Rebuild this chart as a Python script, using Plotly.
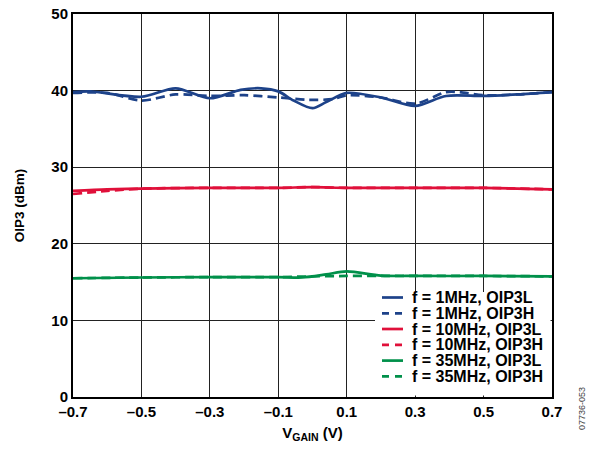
import plotly.graph_objects as go

# Data
x_1l = [-0.7, -0.65, -0.5, -0.4, -0.3, -0.21, -0.15, -0.1, -0.055, 0.0, 0.04, 0.1, 0.2, 0.3, 0.39, 0.5, 0.6, 0.7]
y_1l = [39.8, 39.9, 39.2, 40.3, 39.0, 40.1, 40.3, 39.9, 38.7, 37.7, 38.5, 39.7, 39.1, 38.0, 39.3, 39.3, 39.5, 39.8]

x_1h = [-0.7, -0.6, -0.5, -0.4, -0.3, -0.2, -0.1, -0.01, 0.06, 0.1, 0.2, 0.3, 0.39, 0.43, 0.5, 0.6, 0.7]
y_1h = [39.7, 39.7, 38.7, 39.5, 39.3, 39.4, 39.1, 38.8, 38.9, 39.4, 39.1, 38.3, 39.8, 39.8, 39.4, 39.5, 39.8]

x_10l = [-0.7, -0.6, -0.5, -0.3, -0.1, 0.0, 0.1, 0.3, 0.5, 0.7]
y_10l = [26.9, 27.1, 27.2, 27.3, 27.3, 27.4, 27.3, 27.3, 27.3, 27.1]

x_10h = [-0.7, -0.6, -0.5, -0.3, -0.1, 0.0, 0.1, 0.3, 0.5, 0.7]
y_10h = [26.5, 26.9, 27.2, 27.3, 27.3, 27.4, 27.3, 27.3, 27.3, 27.1]

x_35l = [-0.7, -0.5, -0.3, -0.1, -0.03, 0.04, 0.1, 0.2, 0.3, 0.5, 0.7]
y_35l = [15.5, 15.6, 15.65, 15.65, 15.6, 16.0, 16.4, 15.85, 15.8, 15.8, 15.75]

x_35h = [-0.7, -0.5, -0.3, -0.1, 0.0, 0.1, 0.2, 0.3, 0.5, 0.7]
y_35h = [15.5, 15.6, 15.65, 15.65, 15.75, 15.8, 15.8, 15.8, 15.8, 15.75]

x_tickvals = [-0.7, -0.5, -0.3, -0.1, 0.1, 0.3, 0.5, 0.7]
x_ticktext = ["–0.7", "–0.5", "–0.3", "–0.1", "0.1", "0.3", "0.5", "0.7"]
y_tickvals = [0, 10, 20, 30, 40, 50]

BLUE = "#1d4289"
RED = "#e0103a"
GREEN = "#00904a"

series = [
    ("f = 1MHz, OIP3L", x_1l, y_1l, BLUE, "solid"),
    ("f = 1MHz, OIP3H", x_1h, y_1h, BLUE, "9px,5px"),
    ("f = 10MHz, OIP3L", x_10l, y_10l, RED, "solid"),
    ("f = 10MHz, OIP3H", x_10h, y_10h, RED, "9px,5px"),
    ("f = 35MHz, OIP3L", x_35l, y_35l, GREEN, "solid"),
    ("f = 35MHz, OIP3H", x_35h, y_35h, GREEN, "9px,5px"),
]

FF = "Liberation Sans, Arial, sans-serif"

# page pixel -> paper coordinates (plot area 73..552 x 14..397 in the page)
PL, PR, PT, PB = 73.0, 552.0, 14.0, 397.0
def px(x):
    return (x - PL) / (PR - PL)
def py(y):
    return (PB - y) / (PB - PT)

fig = go.Figure()
for name, xs, ys, col, dash in series:
    fig.add_trace(go.Scatter(
        x=xs, y=ys, name=name, mode="lines", showlegend=False,
        line=dict(color=col, width=2.7, dash=dash, shape="spline", smoothing=0.8),
    ))

# browser body margin is 8px: compensate in margins
OFF = 8
W, H = 594, 452
fig.update_layout(
    width=W, height=H,
    margin=dict(l=PL - OFF, r=W + OFF - PR, t=PT - OFF, b=H + OFF - PB, autoexpand=False),
    paper_bgcolor="white", plot_bgcolor="white",
    font=dict(family=FF, size=12, color="black"),
    showlegend=False,
    xaxis=dict(
        range=[-0.7, 0.7], tickvals=x_tickvals, ticktext=x_ticktext,
        showgrid=True, gridcolor="#222222", gridwidth=1,
        showline=True, linecolor="black", linewidth=2, mirror=True,
        ticks="", zeroline=False, ticklabeloverflow="allow", automargin=False,
        tickfont=dict(family=FF, size=15, weight="bold"),
        title=dict(text="V<sub>GAIN</sub> (V)", font=dict(family=FF, size=15, weight="bold"), standoff=8),
    ),
    yaxis=dict(
        range=[0, 50], tickvals=y_tickvals,
        showgrid=True, gridcolor="#222222", gridwidth=1,
        showline=True, linecolor="black", linewidth=2, mirror=True,
        ticks="", zeroline=False, ticklabeloverflow="allow", automargin=False,
        tickfont=dict(family=FF, size=15, weight="bold"),
        title=dict(text="OIP3 (dBm)", font=dict(family=FF, size=13.5, weight="bold"), standoff=24),
    ),
)

# legend box (drawn by hand to match the tight row spacing)
fig.add_shape(type="rect", xref="paper", yref="paper",
              x0=px(375), x1=px(550.5), y0=py(395.5), y1=py(292),
              fillcolor="white", line=dict(width=0), layer="above")
row_y = [297.5, 313.3, 329.0, 344.8, 360.6, 376.4]
for (name, xs, ys, col, dash), ry in zip(series, row_y):
    fig.add_shape(type="line", xref="paper", yref="paper",
                  x0=px(382), x1=px(403), y0=py(ry), y1=py(ry),
                  line=dict(color=col, width=2.7, dash=("solid" if dash == "solid" else "7px,6px")),
                  layer="above")
    fig.add_annotation(text=name, xref="paper", yref="paper", x=px(410), y=py(ry),
                       xanchor="left", yanchor="middle", showarrow=False,
                       font=dict(family=FF, size=16, color="black", weight="bold"))

fig.add_annotation(
    text="07736-053", xref="paper", yref="paper", x=px(582), y=py(409),
    xanchor="center", yanchor="middle", textangle=-90, showarrow=False,
    font=dict(family=FF, size=9, color="#444444"),
)

fig.write_html("out.html")
